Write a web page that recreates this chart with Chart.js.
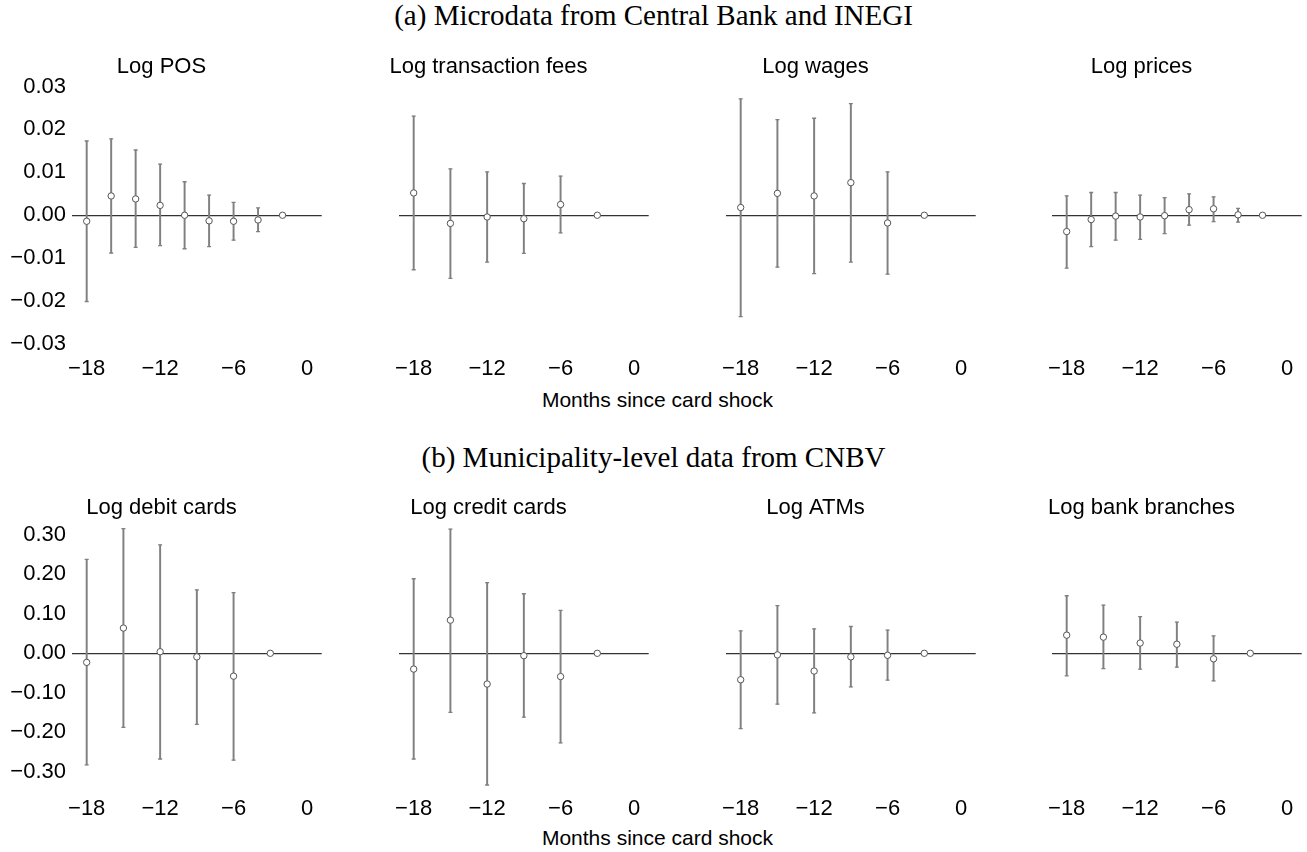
<!DOCTYPE html>
<html>
<head>
<meta charset="utf-8">
<script src="https://cdn.jsdelivr.net/npm/chart.js@4.4.1/dist/chart.umd.min.js"></script>
<style>
  html, body { margin: 0; padding: 0; background: #fff; }
  body { width: 1307px; height: 852px; position: relative; overflow: hidden; }
  .group-title { position: absolute; left: 0; width: 1307px; text-align: center; font-family: "Liberation Serif", "Times New Roman", serif; font-size: 29px; line-height: 30px; color: #000; }
  .x-label { position: absolute; left: 4px; width: 1307px; text-align: center; font-family: "Liberation Sans", Arial, sans-serif; font-size: 21px; line-height: 24px; color: #000; }
  canvas { position: absolute; }
</style>
</head>
<body>
<div class="group-title" style="top:0px">(a) Microdata from Central Bank and INEGI</div>
<canvas id="posChart" width="327" height="325" style="left:0px;top:50px"></canvas>
<canvas id="feesChart" width="327" height="325" style="left:327px;top:50px"></canvas>
<canvas id="wagesChart" width="327" height="325" style="left:654px;top:50px"></canvas>
<canvas id="pricesChart" width="327" height="325" style="left:980px;top:50px"></canvas>
<div class="x-label" style="top:388px">Months since card shock</div>

<div class="group-title" style="top:442px">(b) Municipality-level data from CNBV</div>
<canvas id="debitChart" width="327" height="324" style="left:0px;top:491px"></canvas>
<canvas id="creditChart" width="327" height="324" style="left:327px;top:491px"></canvas>
<canvas id="atmChart" width="327" height="324" style="left:654px;top:491px"></canvas>
<canvas id="branchChart" width="327" height="324" style="left:980px;top:491px"></canvas>
<div class="x-label" style="top:826px">Months since card shock</div>

<script>
// Meses relativos al choque de tarjetas
const monthsEvery2 = [-18, -16, -14, -12, -10, -8, -6, -4, -2];
const monthsEvery3 = [-18, -15, -12, -9, -6, -3];
const xTicks = [-18, -12, -6, 0];
const yTicksTop = [-0.03, -0.02, -0.01, 0.00, 0.01, 0.02, 0.03];
const yTicksBottom = [-0.30, -0.20, -0.10, 0.00, 0.10, 0.20, 0.30];

// (a) Microdata from Central Bank and INEGI
const posEst = [-0.0014, 0.0045, 0.0038, 0.0023, 0.0000, -0.0013, -0.0014, -0.0011, 0];
const posLow = [-0.0201, -0.0088, -0.0075, -0.0071, -0.0078, -0.0073, -0.0058, -0.0038, null];
const posHigh = [0.0173, 0.0178, 0.0152, 0.0119, 0.0078, 0.0047, 0.0030, 0.0017, null];

const feesEst = [0.0052, -0.0019, -0.0004, -0.0008, 0.0025, 0];
const feesLow = [-0.0127, -0.0147, -0.0109, -0.0089, -0.0041, null];
const feesHigh = [0.0231, 0.0108, 0.0101, 0.0074, 0.0091, null];

const wagesEst = [0.0018, 0.0051, 0.0045, 0.0076, -0.0018, 0];
const wagesLow = [-0.0236, -0.0121, -0.0136, -0.0109, -0.0137, null];
const wagesHigh = [0.0271, 0.0223, 0.0226, 0.0260, 0.0101, null];

const pricesEst = [-0.0038, -0.0010, -0.0002, -0.0004, -0.0001, 0.0013, 0.0015, 0.0001, 0];
const pricesLow = [-0.0123, -0.0073, -0.0058, -0.0056, -0.0043, -0.0023, -0.0015, -0.0016, null];
const pricesHigh = [0.0045, 0.0053, 0.0053, 0.0047, 0.0041, 0.0050, 0.0043, 0.0016, null];

// (b) Municipality-level data from CNBV
const debitEst = [-0.023, 0.064, 0.004, -0.009, -0.058, 0];
const debitLow = [-0.283, -0.188, -0.268, -0.180, -0.271, null];
const debitHigh = [0.238, 0.316, 0.275, 0.161, 0.154, null];

const creditEst = [-0.040, 0.084, -0.078, -0.006, -0.059, 0];
const creditLow = [-0.268, -0.150, -0.334, -0.162, -0.227, null];
const creditHigh = [0.189, 0.315, 0.179, 0.151, 0.109, null];

const atmEst = [-0.067, -0.004, -0.045, -0.009, -0.005, 0];
const atmLow = [-0.191, -0.129, -0.151, -0.085, -0.068, null];
const atmHigh = [0.057, 0.121, 0.062, 0.068, 0.059, null];

const branchEst = [0.046, 0.041, 0.026, 0.023, -0.014, 0];
const branchLow = [-0.057, -0.039, -0.040, -0.035, -0.070, null];
const branchHigh = [0.146, 0.122, 0.093, 0.079, 0.044, null];

const sansFont = '"Liberation Sans", Arial, Helvetica, sans-serif';
const barGray = '#808080';

// Formato con signo menos tipografico
function fmt(v, digits) {
    const s = Math.abs(v).toFixed(digits);
    return v < 0 ? '\u2212' + s : s;
}

function makePanel(id, title, months, est, low, high, yTicks, yMin, yMax, showYLabels) {
    const points = months.map((m, i) => ({ x: m, y: est[i] }));
    const bars = [];
    const caps = [];
    months.forEach((m, i) => {
        if (low[i] === null) return;
        bars.push({ x: m, y: [low[i], high[i]] });
        caps.push({ x: m, y: low[i] });
        caps.push({ x: m, y: high[i] });
    });

    new Chart(document.getElementById(id), {
        type: 'scatter',
        data: {
            datasets: [
                {
                    data: points,
                    pointRadius: 3.2,
                    pointBorderWidth: 1,
                    pointBorderColor: '#555',
                    pointBackgroundColor: '#fff'
                },
                {
                    data: caps,
                    pointStyle: 'line',
                    pointRadius: 2,
                    pointBorderWidth: 1.3,
                    pointBorderColor: barGray
                },
                {
                    type: 'bar',
                    data: bars,
                    backgroundColor: barGray,
                    borderWidth: 0,
                    barThickness: 1.3
                }
            ]
        },
        options: {
            responsive: false,
            animation: false,
            events: [],
            layout: { padding: { left: 0, right: 4, top: 0, bottom: 0 } },
            plugins: {
                legend: { display: false },
                tooltip: { enabled: false },
                title: {
                    display: true,
                    text: title,
                    color: '#000',
                    font: { family: sansFont, size: 22, weight: 'normal' },
                    padding: { top: 4, bottom: 0 }
                }
            },
            scales: {
                x: {
                    type: 'linear',
                    min: -19.2,
                    max: 1.2,
                    offset: false,
                    grid: { display: false, offset: false },
                    border: { display: false },
                    afterBuildTicks: (scale) => { scale.ticks = xTicks.map(v => ({ value: v })); },
                    afterFit: (scale) => { scale.height = 27; },
                    ticks: {
                        color: '#000',
                        padding: 0,
                        maxRotation: 0,
                        autoSkip: false,
                        font: { family: sansFont, size: 22 },
                        callback: (v) => fmt(v, 0)
                    }
                },
                y: {
                    type: 'linear',
                    min: yMin,
                    max: yMax,
                    border: { display: false },
                    grid: {
                        drawTicks: false,
                        lineWidth: 1.2,
                        color: (ctx) => (ctx.tick && ctx.tick.value === 0 ? '#333' : 'rgba(0,0,0,0)')
                    },
                    afterBuildTicks: (scale) => { scale.ticks = yTicks.map(v => ({ value: v })); },
                    afterFit: (scale) => { scale.width = 72; },
                    ticks: {
                        display: showYLabels,
                        color: '#000',
                        padding: 6,
                        font: { family: sansFont, size: 22 },
                        callback: (v) => fmt(v, 2)
                    }
                }
            }
        }
    });
}

// Fila (a)
makePanel('posChart', 'Log POS', monthsEvery2, posEst, posLow, posHigh, yTicksTop, -0.03093, 0.03142, true);
makePanel('feesChart', 'Log transaction fees', monthsEvery3, feesEst, feesLow, feesHigh, yTicksTop, -0.03093, 0.03142, false);
makePanel('wagesChart', 'Log wages', monthsEvery3, wagesEst, wagesLow, wagesHigh, yTicksTop, -0.03093, 0.03142, false);
makePanel('pricesChart', 'Log prices', monthsEvery2, pricesEst, pricesLow, pricesHigh, yTicksTop, -0.03093, 0.03142, false);

// Fila (b)
makePanel('debitChart', 'Log debit cards', monthsEvery3, debitEst, debitLow, debitHigh, yTicksBottom, -0.3416, 0.3345, true);
makePanel('creditChart', 'Log credit cards', monthsEvery3, creditEst, creditLow, creditHigh, yTicksBottom, -0.3416, 0.3345, false);
makePanel('atmChart', 'Log ATMs', monthsEvery3, atmEst, atmLow, atmHigh, yTicksBottom, -0.3416, 0.3345, false);
makePanel('branchChart', 'Log bank branches', monthsEvery3, branchEst, branchLow, branchHigh, yTicksBottom, -0.3416, 0.3345, false);
</script>
</body>
</html>
